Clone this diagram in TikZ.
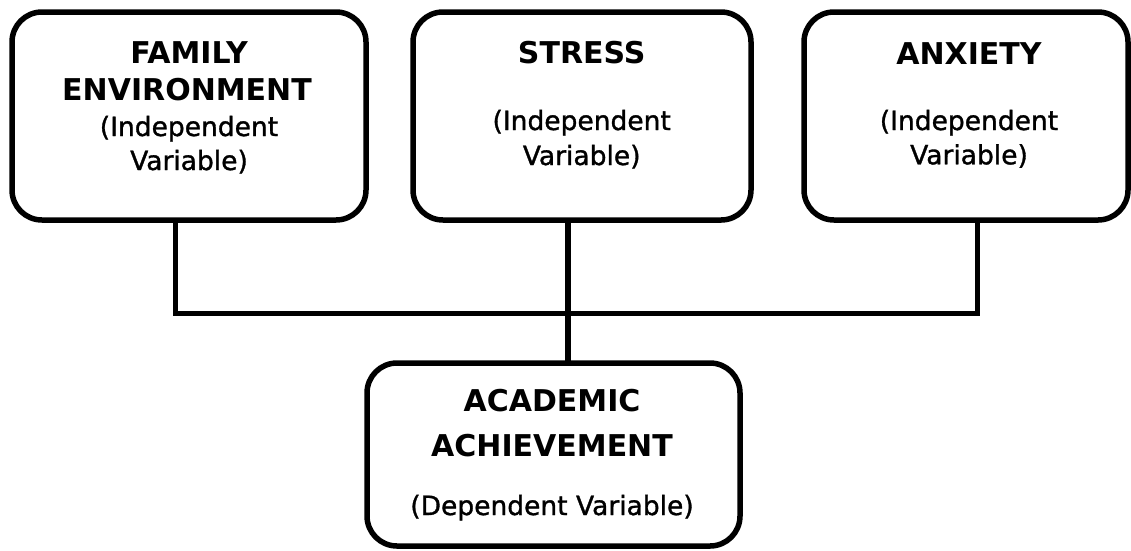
\documentclass[tikz,border=0pt]{standalone}
\usepackage{fontspec}
\setmainfont{DejaVu Sans}
\newfontfamily\subfnt[FakeBold=1.2]{DejaVu Sans}
\begin{document}
\begin{tikzpicture}[x=1pt,y=-1pt,
  box/.style={draw=black,line width=5.5pt,rounded corners=30pt,fill=white},
  conn/.style={draw=black,line width=5.5pt,line join=miter},
  ttl/.style={anchor=base,inner sep=0pt,font=\fontsize{30}{36}\selectfont\bfseries},
  sub/.style={anchor=base,inner sep=0pt,font=\subfnt\fontsize{26.5}{32}\selectfont}]
\useasboundingbox (0,0) rectangle (1131,550);
% boxes
\path[box] (12,12) rectangle (366,220) node[pos=0.5,inner sep=0pt] (fam) {};
\path[box] (413,12) rectangle (751,220) node[pos=0.5,inner sep=0pt] (str) {};
\path[box] (804,12) rectangle (1128,220) node[pos=0.5,inner sep=0pt] (anx) {};
\path[box] (367,363) rectangle (740,546) node[pos=0.5,inner sep=0pt] (ach) {};
\coordinate (famB) at (175.5,220);
\coordinate (strB) at (568,220);
\coordinate (anxB) at (977.7,220);
\coordinate (achT) at (568,363);
\coordinate (j) at (568,313.3);
% connectors
\draw[conn] (famB) |- (j);
\draw[conn] (anxB) |- (j);
\draw[conn] (strB) -- (achT);
% texts
\node[ttl] (famT1) at (189,63.3) {FAMILY};
\node[ttl] (famT2) at (187,100.7) {ENVIRONMENT};
\node[sub] (famS1) at (189,136) {(Independent};
\node[sub] (famS2) at (189,170) {Variable)};
\node[ttl] (strT1) at (581.7,63.3) {STRESS};
\node[sub] (strS1) at (581.7,130) {(Independent};
\node[sub] (strS2) at (581.7,165) {Variable)};
\node[ttl] (anxT1) at (969,64) {ANXIETY};
\node[sub] (anxS1) at (969,130) {(Independent};
\node[sub] (anxS2) at (969,164.3) {Variable)};
\node[ttl] (achT1) at (552,411.7) {ACADEMIC};
\node[ttl] (achT2) at (552,456.7) {ACHIEVEMENT};
\node[sub] (achS1) at (552,515) {(Dependent Variable)};
\end{tikzpicture}
\end{document}
